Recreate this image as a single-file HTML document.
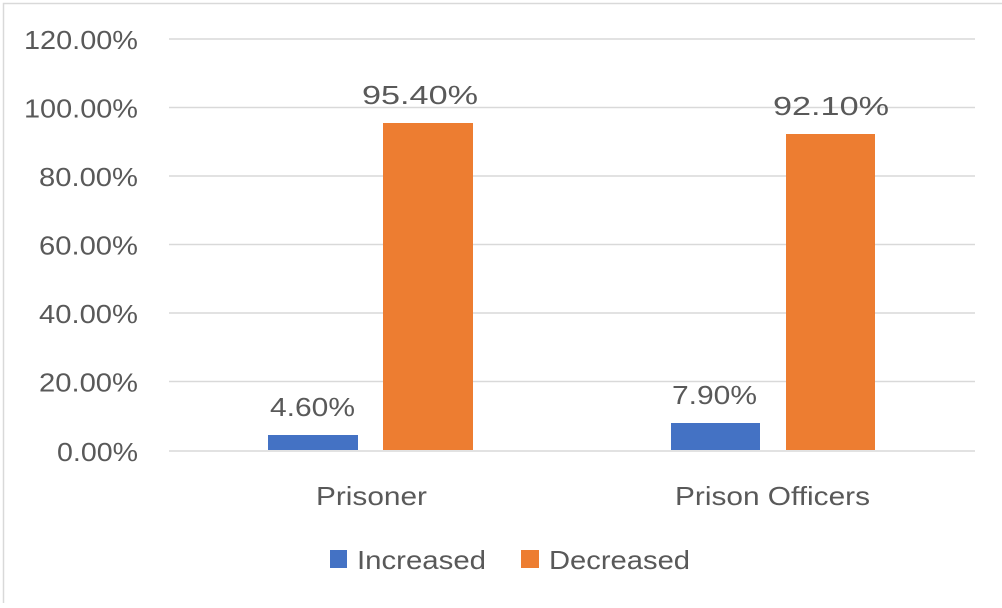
<!DOCTYPE html>
<html><head><style>
body{margin:0;background:#fff}
svg text{font-family:"Liberation Sans",sans-serif;fill:#595959}
</style></head><body>
<svg width="1002" height="603" xmlns="http://www.w3.org/2000/svg">
<rect x="3.5" y="3.5" width="1010" height="620" fill="#fff" stroke="#d9d9d9" stroke-width="1.5"/>
<g stroke="#d9d9d9" stroke-width="1.5">
<line x1="169" x2="975" y1="39" y2="39"/>
<line x1="169" x2="975" y1="107.5" y2="107.5"/>
<line x1="169" x2="975" y1="176" y2="176"/>
<line x1="169" x2="975" y1="244.5" y2="244.5"/>
<line x1="169" x2="975" y1="313" y2="313"/>
<line x1="169" x2="975" y1="381.5" y2="381.5"/>
<line x1="169" x2="975" y1="451" y2="451"/>
</g>
<g font-size="26" lengthAdjust="spacingAndGlyphs">
<text x="24" y="49" textLength="114" lengthAdjust="spacingAndGlyphs">120.00%</text>
<text x="24" y="117.5" textLength="114" lengthAdjust="spacingAndGlyphs">100.00%</text>
<text x="39" y="186" textLength="99" lengthAdjust="spacingAndGlyphs">80.00%</text>
<text x="39" y="254.5" textLength="99" lengthAdjust="spacingAndGlyphs">60.00%</text>
<text x="39" y="323" textLength="99" lengthAdjust="spacingAndGlyphs">40.00%</text>
<text x="39" y="391.5" textLength="99" lengthAdjust="spacingAndGlyphs">20.00%</text>
<text x="57" y="461" textLength="81" lengthAdjust="spacingAndGlyphs">0.00%</text>
</g>
<rect x="268" y="435" width="90" height="15" fill="#4472c4"/>
<rect x="383" y="123" width="90" height="327" fill="#ed7d31"/>
<rect x="671" y="423" width="89" height="27" fill="#4472c4"/>
<rect x="786" y="134" width="89" height="316" fill="#ed7d31"/>
<g font-size="26">
<text x="270" y="416" textLength="85" lengthAdjust="spacingAndGlyphs">4.60%</text>
<text x="362" y="104" textLength="116" lengthAdjust="spacingAndGlyphs">95.40%</text>
<text x="672" y="404" textLength="85" lengthAdjust="spacingAndGlyphs">7.90%</text>
<text x="773" y="115" textLength="116" lengthAdjust="spacingAndGlyphs">92.10%</text>
<text x="316" y="505" textLength="111" lengthAdjust="spacingAndGlyphs">Prisoner</text>
<text x="675" y="505" textLength="195" lengthAdjust="spacingAndGlyphs">Prison Officers</text>
<text x="357" y="569" textLength="129" lengthAdjust="spacingAndGlyphs">Increased</text>
<text x="549" y="569" textLength="141" lengthAdjust="spacingAndGlyphs">Decreased</text>
</g>
<rect x="330" y="550" width="17" height="18" fill="#4472c4"/>
<rect x="521" y="550" width="18" height="18" fill="#ed7d31"/>
</svg>
</body></html>
